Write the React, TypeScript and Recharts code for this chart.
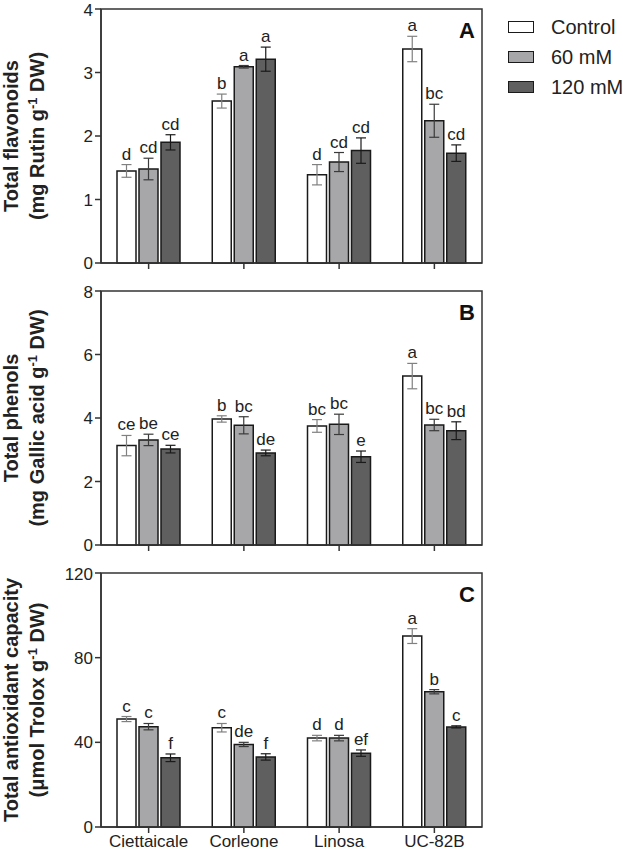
import React from "react";
import {
  BarChart,
  Bar,
  XAxis,
  YAxis,
  ErrorBar,
  LabelList,
  Label,
  ReferenceArea,
} from "recharts";

const cultivars = ["Ciettaicale", "Corleone", "Linosa", "UC-82B"];

// A - total flavonoids
const flavControl = [1.45, 2.55, 1.39, 3.37];
const flavMid = [1.48, 3.09, 1.59, 2.24];
const flavHigh = [1.9, 3.21, 1.77, 1.73];
const flavControlErr = [0.1, 0.11, 0.16, 0.2];
const flavMidErr = [0.17, 0.02, 0.15, 0.26];
const flavHighErr = [0.12, 0.19, 0.2, 0.13];
const flavControlSig = ["d", "b", "d", "a"];
const flavMidSig = ["cd", "a", "cd", "bc"];
const flavHighSig = ["cd", "a", "cd", "cd"];

// B - total phenols
const phenControl = [3.13, 3.97, 3.75, 5.32];
const phenMid = [3.31, 3.77, 3.8, 3.78];
const phenHigh = [3.02, 2.9, 2.78, 3.6];
const phenControlErr = [0.32, 0.1, 0.2, 0.4];
const phenMidErr = [0.18, 0.27, 0.32, 0.18];
const phenHighErr = [0.12, 0.09, 0.18, 0.28];
const phenControlSig = ["ce", "b", "bc", "a"];
const phenMidSig = ["be", "bc", "bc", "bc"];
const phenHighSig = ["ce", "de", "e", "bd"];

// C - total antioxidant capacity
const taxControl = [51.0, 46.9, 42.0, 90.2];
const taxMid = [47.4, 39.0, 42.0, 63.9];
const taxHigh = [32.7, 33.1, 34.9, 47.3];
const taxControlErr = [1.2, 2.0, 1.3, 3.5];
const taxMidErr = [1.5, 1.0, 1.3, 1.0];
const taxHighErr = [1.8, 1.5, 1.5, 0.5];
const taxControlSig = ["c", "c", "d", "a"];
const taxMidSig = ["c", "de", "d", "b"];
const taxHighSig = ["f", "f", "ef", "c"];

const seriesNames = ["Control", "60 mM", "120 mM"];
const fills = ["#ffffff", "#a7a7aa", "#5f5f60"];
const errColors = ["#808080", "#3a3a3a", "#1a1a1a"];

const font = "'Liberation Sans', Arial, sans-serif";
const ink = "#222";
const axisColor = "#333";

function buildRows(vals: number[][], errs: number[][], sigs: string[][]) {
  return cultivars.map((name, i) => ({
    name,
    s0: vals[0][i],
    s1: vals[1][i],
    s2: vals[2][i],
    e0: errs[0][i],
    e1: errs[1][i],
    e2: errs[2][i],
    l0: sigs[0][i],
    l1: sigs[1][i],
    l2: sigs[2][i],
  }));
}

const sigLabel = (vals: number[], errs: number[]) => (props: any) => {
  const vb = props.viewBox || props;
  const x = vb.x ?? props.x;
  const y = vb.y ?? props.y;
  const w = vb.width ?? props.width;
  const h = vb.height ?? props.height;
  const i = props.index;
  const v = vals[i];
  const pxPer = v ? h / v : 0;
  const top = y - errs[i] * pxPer;
  return (
    <text
      x={x + w / 2}
      y={top - 5}
      textAnchor="middle"
      fontSize={17}
      fontFamily={font}
      fill={ink}
    >
      {props.value}
    </text>
  );
};

type PanelProps = {
  top: number;
  height: number;
  xHeight: number;
  rows: any[];
  vals: number[][];
  errs: number[][];
  domain: [number, number];
  ticks: number[];
  title: string;
  unitPre: string;
  unitPost: string;
  letter: string;
  showNames: boolean;
};

function Panel(p: PanelProps) {
  const yTitle = (props: any) => {
    const vb = props.viewBox;
    const cy = vb.y + vb.height / 2;
    return (
      <g fontFamily={font} fontWeight="bold" fontSize={20} fill={ink}>
        <text
          x={18}
          y={cy}
          textAnchor="middle"
          transform={`rotate(-90, 18, ${cy})`}
        >
          {p.title}
        </text>
        <text
          x={44}
          y={cy}
          textAnchor="middle"
          transform={`rotate(-90, 44, ${cy})`}
        >
          {p.unitPre}
          <tspan dy={-7} fontSize={13}>
            -1
          </tspan>
          <tspan dy={7}>{p.unitPost}</tspan>
        </text>
      </g>
    );
  };

  const panelLetter = (props: any) => {
    const vb = props.viewBox;
    return (
      <text
        x={vb.x + vb.width - 7}
        y={vb.y + 29}
        textAnchor="end"
        fontFamily={font}
        fontWeight="bold"
        fontSize={22}
        fill="#111"
      >
        {p.letter}
      </text>
    );
  };

  return (
    <div style={{ position: "absolute", left: 0, top: p.top }}>
      <BarChart
        width={623}
        height={p.height}
        data={p.rows}
        margin={{ top: 9, right: 141, left: 0, bottom: 0 }}
        barSize={19}
        barGap={3}
      >
        <XAxis
          dataKey="name"
          height={p.xHeight}
          stroke={axisColor}
          strokeWidth={1.5}
          tickSize={6}
          tickFormatter={(v) => (p.showNames ? v : "")}
          tick={{ fill: ink, fontSize: 17, fontFamily: font }}
        />
        <YAxis
          width={101}
          domain={p.domain}
          ticks={p.ticks}
          stroke={axisColor}
          strokeWidth={1.5}
          tickSize={6}
          tick={{ fill: ink, fontSize: 17, fontFamily: font }}
        >
          <Label content={yTitle} />
        </YAxis>
        <ReferenceArea
          y1={p.domain[0]}
          y2={p.domain[1]}
          fill="none"
          fillOpacity={0}
          stroke={axisColor}
          strokeWidth={1.5}
          ifOverflow="visible"
        >
          <Label content={panelLetter} />
        </ReferenceArea>
        {[0, 1, 2].map((k) => (
          <Bar
            key={k}
            dataKey={`s${k}`}
            name={seriesNames[k]}
            fill={fills[k]}
            stroke="#1a1a1a"
            strokeWidth={1.5}
            isAnimationActive={false}
          >
            <ErrorBar
              dataKey={`e${k}`}
              width={5}
              stroke={errColors[k]}
              strokeWidth={1.2}
              direction="y"
            />
            <LabelList
              dataKey={`l${k}`}
              content={sigLabel(p.vals[k], p.errs[k])}
            />
          </Bar>
        ))}
      </BarChart>
    </div>
  );
}

function LegendBox() {
  return (
    <div
      style={{
        position: "absolute",
        left: 508,
        top: 12,
        fontFamily: font,
        fontSize: 20,
        color: ink,
      }}
    >
      {seriesNames.map((n, k) => (
        <div
          key={n}
          style={{ display: "flex", alignItems: "center", height: 30 }}
        >
          <div
            style={{
              width: 24,
              height: 10,
              background: fills[k],
              border: "1.5px solid #1a1a1a",
              marginRight: 17,
            }}
          />
          <span style={{ whiteSpace: "nowrap" }}>{n}</span>
        </div>
      ))}
    </div>
  );
}

export default function App() {
  const flavVals = [flavControl, flavMid, flavHigh];
  const flavErrs = [flavControlErr, flavMidErr, flavHighErr];
  const phenVals = [phenControl, phenMid, phenHigh];
  const phenErrs = [phenControlErr, phenMidErr, phenHighErr];
  const taxVals = [taxControl, taxMid, taxHigh];
  const taxErrs = [taxControlErr, taxMidErr, taxHighErr];

  return (
    <div
      style={{
        position: "absolute",
        left: 0,
        top: 0,
        width: 623,
        height: 856,
        background: "#fff",
        overflow: "hidden",
      }}
    >
      <Panel
        top={0}
        height={282}
        xHeight={19}
        rows={buildRows(flavVals, flavErrs, [flavControlSig, flavMidSig, flavHighSig])}
        vals={flavVals}
        errs={flavErrs}
        domain={[0, 4]}
        ticks={[0, 1, 2, 3, 4]}
        title="Total flavonoids"
        unitPre="(mg Rutin g"
        unitPost=" DW)"
        letter="A"
        showNames={false}
      />
      <Panel
        top={282}
        height={282}
        xHeight={19}
        rows={buildRows(phenVals, phenErrs, [phenControlSig, phenMidSig, phenHighSig])}
        vals={phenVals}
        errs={phenErrs}
        domain={[0, 8]}
        ticks={[0, 2, 4, 6, 8]}
        title="Total phenols"
        unitPre="(mg Gallic acid g"
        unitPost=" DW)"
        letter="B"
        showNames={false}
      />
      <Panel
        top={564}
        height={292}
        xHeight={29}
        rows={buildRows(taxVals, taxErrs, [taxControlSig, taxMidSig, taxHighSig])}
        vals={taxVals}
        errs={taxErrs}
        domain={[0, 120]}
        ticks={[0, 40, 80, 120]}
        title="Total antioxidant capacity"
        unitPre="(μmol Trolox g"
        unitPost=" DW)"
        letter="C"
        showNames={true}
      />
      <LegendBox />
    </div>
  );
}
